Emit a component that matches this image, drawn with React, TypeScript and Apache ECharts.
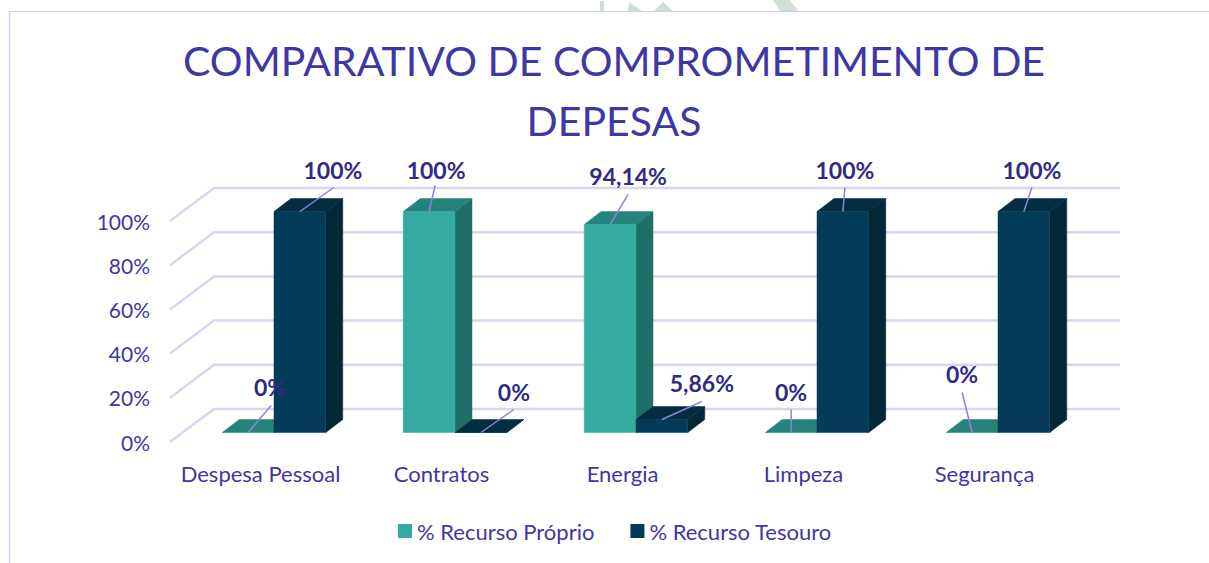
import React, { useEffect, useRef } from "react";
import * as echarts from "echarts";

const categories = ["Despesa Pessoal", "Contratos", "Energia", "Limpeza", "Segurança"];
const proprioValues = [0, 100, 94.14, 0, 0];
const tesouroValues = [100, 0, 5.86, 100, 100];
const proprioLabels = ["0%", "100%", "94,14%", "0%", "0%"];
const tesouroLabels = ["100%", "0%", "5,86%", "100%", "100%"];
const gridTicks = [0, 20, 40, 60, 80, 100];

// leader-line end and text centre, relative to the centre of the bar's front top edge
const proprioOffsets = [
  [23, -27, 22, -46],
  [6, -26, 7, -42],
  [18, -30, 18, -48],
  [0, -23, 0, -41],
  [-10, -40, -10, -59],
];
const tesouroOffsets = [
  [34, -24, 33, -42],
  [33, -23, 33, -41],
  [40, -18, 40, -37],
  [2, -24, 2, -42],
  [8, -24, 8, -42],
];

const FONT = "Lato";
const TEXT = "#3F37A3";
const LABEL = "#2F2A85";
const GRID = "#D9D5F1";
const LEADER = "#8C84D8";
const WALL_DX = 44;
const WALL_DY = -33;
const BAR_SHIFT_X = 13.5;
const BAR_SHIFT_Y = -9.5;
const DEPTH_X = 17;
const DEPTH_Y = -13;
const BAR_BAND = 0.286;

const teal = { front: "#35AAA0", side: "#1F6F68", top: "#26837B" };
const navy = { front: "#033B58", side: "#022838", top: "#022C40" };

function barRender(palette: typeof teal, sign: number) {
  return (_p: any, api: any) => {
    const cat = api.value(0);
    const val = api.value(1);
    const base = api.coord([cat, 0]);
    const topPt = api.coord([cat, val]);
    const w = api.size([1, 0])[0] * BAR_BAND;
    const x0 = base[0] + BAR_SHIFT_X + (sign < 0 ? -w : 0);
    const x1 = x0 + w;
    const yB = base[1] + BAR_SHIFT_Y;
    const yT = topPt[1] + BAR_SHIFT_Y;
    const edge = (fill: string) => ({ fill, stroke: fill, lineWidth: 0.5 });
    return {
      type: "group",
      children: [
        {
          type: "polygon",
          shape: { points: [[x1, yB], [x1 + DEPTH_X, yB + DEPTH_Y], [x1 + DEPTH_X, yT + DEPTH_Y], [x1, yT]] },
          style: edge(palette.side),
        },
        {
          type: "polygon",
          shape: { points: [[x0, yT], [x1, yT], [x1 + DEPTH_X, yT + DEPTH_Y], [x0 + DEPTH_X, yT + DEPTH_Y]] },
          style: edge(palette.top),
        },
        {
          type: "rect",
          shape: { x: x0, y: yT, width: w, height: yB - yT },
          style: edge(palette.front),
        },
      ],
    };
  };
}

function labelRender(offsets: number[][], texts: string[], sign: number) {
  return (p: any, api: any) => {
    const cat = api.value(0);
    const val = api.value(1);
    const topPt = api.coord([cat, val]);
    const w = api.size([1, 0])[0] * BAR_BAND;
    const cx = topPt[0] + BAR_SHIFT_X + (sign * w) / 2;
    const cy = topPt[1] + BAR_SHIFT_Y;
    const o = offsets[p.dataIndex];
    return {
      type: "group",
      children: [
        {
          type: "line",
          shape: { x1: cx, y1: cy, x2: cx + o[0], y2: cy + o[1] },
          style: { stroke: LEADER, lineWidth: 1.5 },
        },
        {
          type: "text",
          x: cx + o[2],
          y: cy + o[3],
          style: {
            text: texts[p.dataIndex],
            fill: LABEL,
            font: `bold 23px ${FONT}`,
            textAlign: "center",
            textVerticalAlign: "middle",
          },
        },
      ],
    };
  };
}

function gridRender(p: any, api: any) {
  const pt = api.coord([0, api.value(0)]);
  const cs = p.coordSys;
  const right = cs.x + cs.width;
  return {
    type: "polyline",
    shape: { points: [[cs.x, pt[1]], [cs.x + WALL_DX, pt[1] + WALL_DY], [right + WALL_DX + 1, pt[1] + WALL_DY]] },
    style: { stroke: GRID, lineWidth: 2.5, fill: "none" },
  };
}

export default function App() {
  const ref = useRef<HTMLDivElement>(null);
  useEffect(() => {
    const chart = echarts.init(ref.current!, undefined, { renderer: "svg" });
    const pairs = (vals: number[]) => vals.map((v, i) => [i, v]);
    const mark = "#CFE0D2";
    chart.setOption({
      animation: false,
      backgroundColor: "#ffffff",
      title: {
        text: "COMPARATIVO DE COMPROMETIMENTO DE\nDEPESAS",
        left: 609,
        top: 25,
        textAlign: "center",
        textStyle: { fontFamily: FONT, fontSize: 41, fontWeight: "normal", color: TEXT, lineHeight: 60 },
      },
      legend: {
        left: 398,
        top: 520,
        padding: 0,
        icon: "rect",
        itemWidth: 14,
        itemHeight: 14,
        itemGap: 36,
        selectedMode: false,
        data: ["% Recurso Próprio", "% Recurso Tesouro"],
        textStyle: { fontFamily: FONT, fontSize: 22, color: TEXT },
      },
      grid: { left: 170, top: 221, width: 905, height: 221 },
      xAxis: {
        type: "category",
        data: categories,
        axisLine: { show: false },
        axisTick: { show: false },
        axisLabel: { fontFamily: FONT, fontSize: 22, color: TEXT, margin: 20, interval: 0 },
      },
      yAxis: {
        type: "value",
        min: 0,
        max: 100,
        interval: 20,
        axisLine: { show: false },
        axisTick: { show: false },
        splitLine: { show: false },
        axisLabel: { fontFamily: FONT, fontSize: 21, color: TEXT, margin: 20, formatter: "{value}%" },
      },
      graphic: [
        { type: "polygon", shape: { points: [[600, 11], [600, 1], [604, 1], [604, 11]] }, style: { fill: mark } },
        { type: "polygon", shape: { points: [[628, 11], [629, 2], [642, 11]] }, style: { fill: mark } },
        { type: "polygon", shape: { points: [[654, 11], [663, 2], [673, 11]] }, style: { fill: mark } },
        { type: "polygon", shape: { points: [[773, 0], [790, 0], [798, 11], [780, 11]] }, style: { fill: mark } },
        { type: "line", shape: { x1: 9.5, y1: 11, x2: 9.5, y2: 563 }, style: { stroke: "#D2CEEE", lineWidth: 1.5 } },
        { type: "line", shape: { x1: 9, y1: 11.5, x2: 1209, y2: 11.5 }, style: { stroke: "#D2CEEE", lineWidth: 1 } },
      ],
      series: [
        { type: "custom", name: "grid", silent: true, renderItem: gridRender, data: gridTicks.map((t) => [t]), encode: { y: 0 }, z: 1 },
        { type: "custom", name: "% Recurso Próprio", renderItem: barRender(teal, -1), data: pairs(proprioValues), itemStyle: { color: teal.front }, encode: { x: 0, y: 1 }, z: 2 },
        { type: "custom", name: "% Recurso Tesouro", renderItem: barRender(navy, 1), data: pairs(tesouroValues), itemStyle: { color: navy.front }, encode: { x: 0, y: 1 }, z: 3 },
        { type: "custom", name: "proprio labels", silent: true, renderItem: labelRender(proprioOffsets, proprioLabels, -1), data: pairs(proprioValues), encode: { x: 0, y: 1 }, z: 4 },
        { type: "custom", name: "tesouro labels", silent: true, renderItem: labelRender(tesouroOffsets, tesouroLabels, 1), data: pairs(tesouroValues), encode: { x: 0, y: 1 }, z: 4 },
      ],
    });
    return () => chart.dispose();
  }, []);
  return <div ref={ref} style={{ position: "fixed", left: 0, top: 0, width: 1209, height: 563 }} />;
}
